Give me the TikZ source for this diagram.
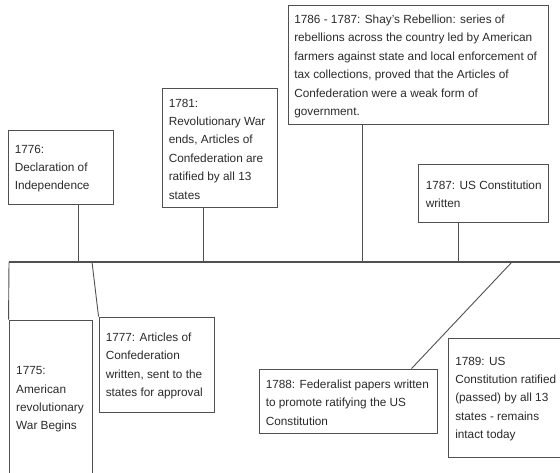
\documentclass[tikz,border=0pt]{standalone}
\usepackage{fontspec}
\setmainfont{Liberation Sans}
\definecolor{txtgray}{HTML}{2A2A2A}
\definecolor{linegray}{HTML}{505050}
\begin{document}
\begin{tikzpicture}[x=1pt,y=-1pt,
  box/.style={draw=linegray, line width=0.9pt, inner sep=0pt},
  txt/.style={anchor=west, align=left, inner sep=0pt, text=txtgray,
    font=\fontsize{11.8}{18.4}\selectfont},
  conn/.style={draw=linegray, line width=0.9pt},
  tline/.style={draw=linegray, line width=1.1pt}]
\useasboundingbox (0,0) rectangle (560,472);
\clip (0,0) rectangle (560,472);
% boxes
\node[box, minimum width=105pt, minimum height=74pt]  (b1776) at (60.5,167) {};
\node[box, minimum width=115pt, minimum height=119pt] (b1781) at (219.5,147.5) {};
\node[box, minimum width=260pt, minimum height=119pt] (b1786) at (418,64.5) {};
\node[box, minimum width=130pt, minimum height=58pt]  (b1787) at (483,193) {};
\node[box, minimum width=83pt,  minimum height=156pt] (b1775) at (50.5,398) {};
\node[box, minimum width=115pt, minimum height=95pt]  (b1777) at (156.5,364.5) {};
\node[box, minimum width=178pt, minimum height=64pt]  (b1788) at (348,401) {};
\node[box, minimum width=127pt, minimum height=119pt] (b1789) at (511.5,397.5) {};
% texts
\node[txt] (t1776) at ([xshift=7pt,yshift=-1.5pt]b1776.west) {1776:\\Declaration of\\Independence};
\node[txt] (t1781) at ([xshift=7pt,yshift=-1.5pt]b1781.west) {1781:\\Revolutionary War\\ends, Articles of\\Confederation are\\ratified by all 13\\states};
\node[txt] (t1786) at ([xshift=6.5pt,yshift=-2pt]b1786.west) {1786 - 1787: Shay's Rebellion: series of\\rebellions across the country led by American\\farmers against state and local enforcement of\\tax collections, proved that the Articles of\\Confederation were a weak form of\\government.};
\node[txt] (t1787) at ([xshift=8pt,yshift=-1.5pt]b1787.west) {1787: US Constitution\\written};
\node[txt] (t1775) at ([xshift=7.5pt,yshift=-1.5pt]b1775.west) {1775:\\American\\revolutionary\\War Begins};
\node[txt] (t1777) at ([xshift=7pt,yshift=-1.5pt]b1777.west) {1777: Articles of\\Confederation\\written, sent to the\\states for approval};
\node[txt] (t1788) at ([xshift=7pt,yshift=-1.5pt]b1788.west) {1788: Federalist papers written\\to promote ratifying the US\\Constitution};
\node[txt] (t1789) at ([xshift=7.5pt,yshift=-1.5pt]b1789.west) {1789: US\\Constitution ratified\\(passed) by all 13\\states - remains\\intact today};
% timeline
\coordinate (tlL) at (9,262);
\coordinate (tlR) at (572,262);
\coordinate (p1776) at (78,262);
\coordinate (p1777) at (92,262);
\coordinate (p1781) at (203,262);
\coordinate (p1786) at (362,262);
\coordinate (p1787) at (458,262);
\coordinate (p1788) at (512,262);
\draw[tline] (tlL) -- (tlR);
% connectors
\draw[conn] (b1776.south -| p1776) -- (p1776);
\draw[conn] (b1781.south -| p1781) -- (p1781);
\draw[conn] (b1786.south -| p1786) -- (p1786);
\draw[conn] (b1787.south -| p1787) -- (p1787);
\draw[conn] (tlL) -- (b1775.north west);
\draw[conn] (p1777) -- (b1777.north west);
\draw[conn] (p1788) -- ([xshift=153pt]b1788.north west);
\end{tikzpicture}
\end{document}
